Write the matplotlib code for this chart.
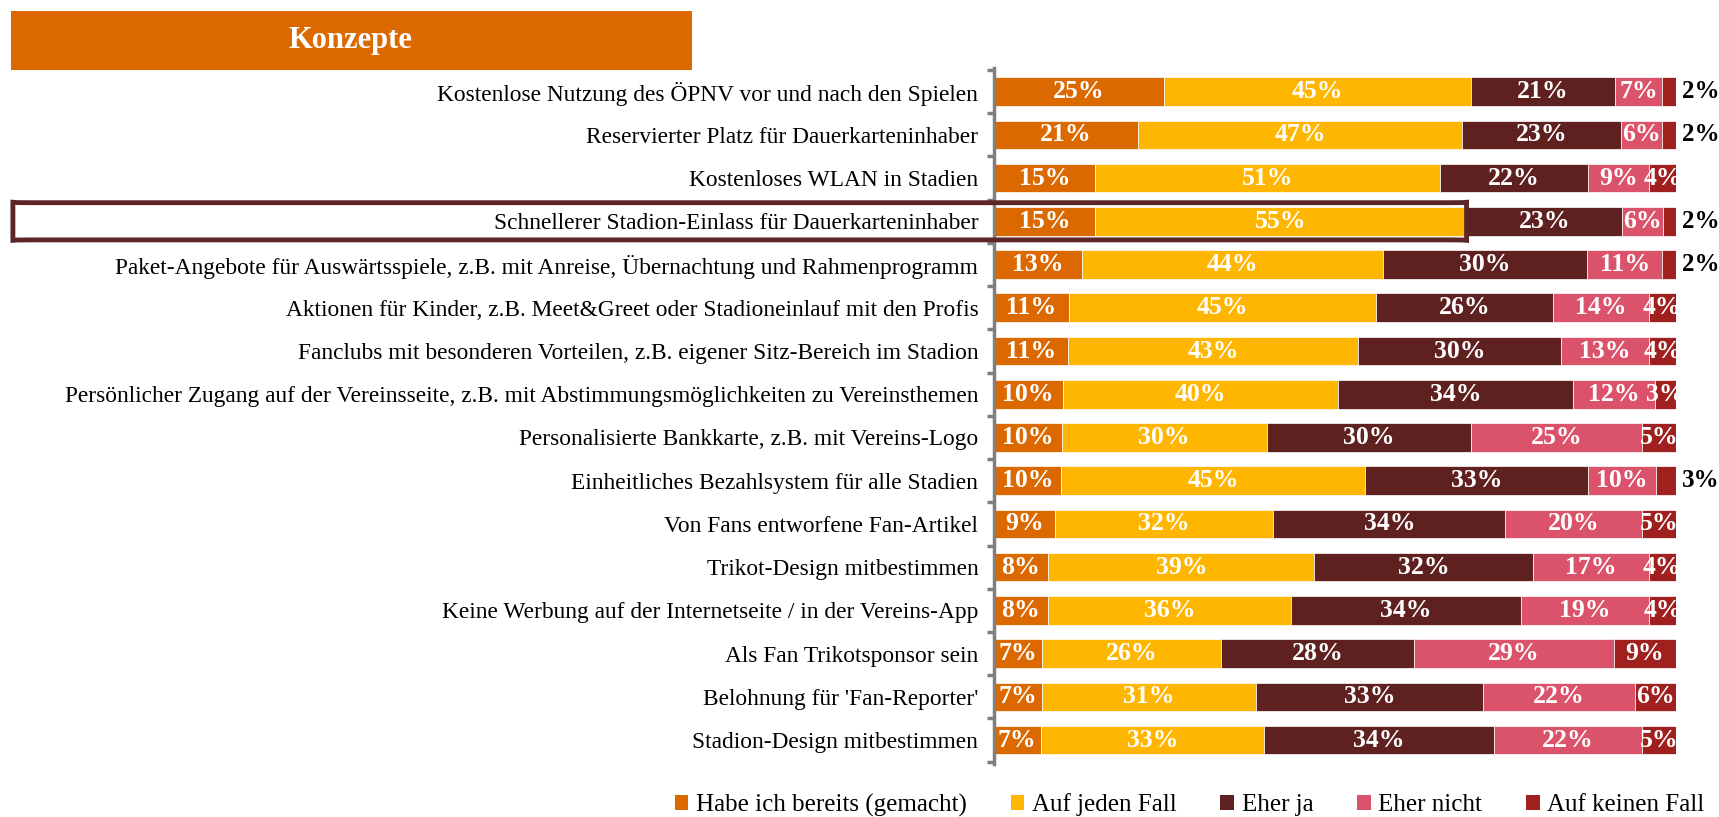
import numpy as np
import matplotlib.pyplot as plt
from matplotlib.patches import Patch, Rectangle, FancyBboxPatch
from matplotlib.transforms import blended_transform_factory

plt.rcParams['font.family'] = ['Liberation Serif', 'DejaVu Serif']

# Daten
categories = [
    "Kostenlose Nutzung des ÖPNV vor und nach den Spielen",
    "Reservierter Platz für Dauerkarteninhaber",
    "Kostenloses WLAN in Stadien",
    "Schnellerer Stadion-Einlass für Dauerkarteninhaber",
    "Paket-Angebote für Auswärtsspiele, z.B. mit Anreise, Übernachtung und Rahmenprogramm",
    "Aktionen für Kinder, z.B. Meet&Greet oder Stadioneinlauf mit den Profis",
    "Fanclubs mit besonderen Vorteilen, z.B. eigener Sitz-Bereich im Stadion",
    "Persönlicher Zugang auf der Vereinsseite, z.B. mit Abstimmungsmöglichkeiten zu Vereinsthemen",
    "Personalisierte Bankkarte, z.B. mit Vereins-Logo",
    "Einheitliches Bezahlsystem für alle Stadien",
    "Von Fans entworfene Fan-Artikel",
    "Trikot-Design mitbestimmen",
    "Keine Werbung auf der Internetseite / in der Vereins-App",
    "Als Fan Trikotsponsor sein",
    "Belohnung für 'Fan-Reporter'",
    "Stadion-Design mitbestimmen",
]
series = ["Habe ich bereits (gemacht)", "Auf jeden Fall", "Eher ja", "Eher nicht", "Auf keinen Fall"]
habe = [25, 21, 15, 15, 13, 11, 11, 10, 10, 10, 9, 8, 8, 7, 7, 7]
jeden = [45, 47, 51, 55, 44, 45, 43, 40, 30, 45, 32, 39, 36, 26, 31, 33]
eher_ja = [21, 23, 22, 23, 30, 26, 30, 34, 30, 33, 34, 32, 34, 28, 33, 34]
eher_nicht = [7, 6, 9, 6, 11, 14, 13, 12, 25, 10, 20, 17, 19, 29, 22, 22]
keinen = [2, 2, 4, 2, 2, 4, 4, 3, 5, 3, 5, 4, 4, 9, 6, 5]
# letzte Beschriftung außerhalb des Balkens?
outside = [True, True, False, True, True, False, False, False, False, True, False, False, False, False, False, False]
highlight = 3

colors = ['#DC6900', '#FFB600', '#5F2120', '#DB536A', '#A0201F']

data = np.array([habe, jeden, eher_ja, eher_nicht, keinen], dtype=float)
widths = data / data.sum(axis=0) * 100

fig = plt.figure(figsize=(17.19, 8.17), dpi=100)
ax = fig.add_axes([0.578, 0.065, 0.397, 0.852])

y = np.arange(len(categories))
left = np.zeros(len(categories))
for k in range(len(series)):
    ax.barh(y, widths[k], left=left, height=0.66, color=colors[k],
            edgecolor='white', linewidth=0.5, label=series[k])
    for i in range(len(categories)):
        if k == 4 and outside[i]:
            ax.annotate(f"{int(data[k, i])}%", (100, i), xytext=(4, 0),
                        textcoords='offset points', ha='left', va='center',
                        fontsize=18, fontweight='bold', color='black',
                        annotation_clip=False)
        else:
            ax.text(left[i] + widths[k, i] / 2, i, f"{int(data[k, i])}%",
                    ha='center', va='center', fontsize=18.5, fontweight='bold',
                    color='white', clip_on=True)
    left += widths[k]

ax.set_xlim(0, 100)
ax.set_ylim(len(categories) - 0.45, -0.55)
ax.set_yticks(y)
ax.set_yticklabels(categories, fontsize=16.8)
ax.tick_params(axis='y', which='major', length=0, pad=11)
ax.set_yticks(np.arange(len(categories) + 1) - 0.5, minor=True)
ax.tick_params(axis='y', which='minor', length=5, width=2.5, color='#808080', direction='out')
ax.set_xticks([])
for s in ['top', 'right', 'bottom']:
    ax.spines[s].set_visible(False)
ax.spines['left'].set_color('#808080')
ax.spines['left'].set_linewidth(2.5)

# Titel-Kasten
fig.patches.append(Rectangle((0.0064, 0.914), 0.396, 0.0725, transform=fig.transFigure,
                             facecolor='#DC6900', edgecolor='none'))
fig.text(0.204, 0.951, "Konzepte", ha='center', va='center', color='white',
         fontsize=22, fontweight='bold')

# Hervorhebung
pos = ax.get_position()
x_right = pos.x0 + (widths[0, highlight] + widths[1, highlight]) / 100 * pos.width
tr = blended_transform_factory(fig.transFigure, ax.transData)
box = FancyBboxPatch((0.0075, highlight + 0.43), x_right - 0.0075, -0.86,
                     boxstyle='round,pad=0,rounding_size=0.01',
                     transform=tr, facecolor='none', edgecolor='#5C2626',
                     linewidth=3.5, clip_on=False, zorder=5)
fig.patches.append(box)

handles = [Patch(facecolor=c, edgecolor='none') for c in colors]
fig.legend(handles, series, loc='lower center', bbox_to_anchor=(0.692, -0.027),
           ncol=5, frameon=False, fontsize=18, handlelength=0.55, handleheight=0.55,
           handletextpad=0.3, columnspacing=1.75)

fig.savefig('out.png', dpi=100)
